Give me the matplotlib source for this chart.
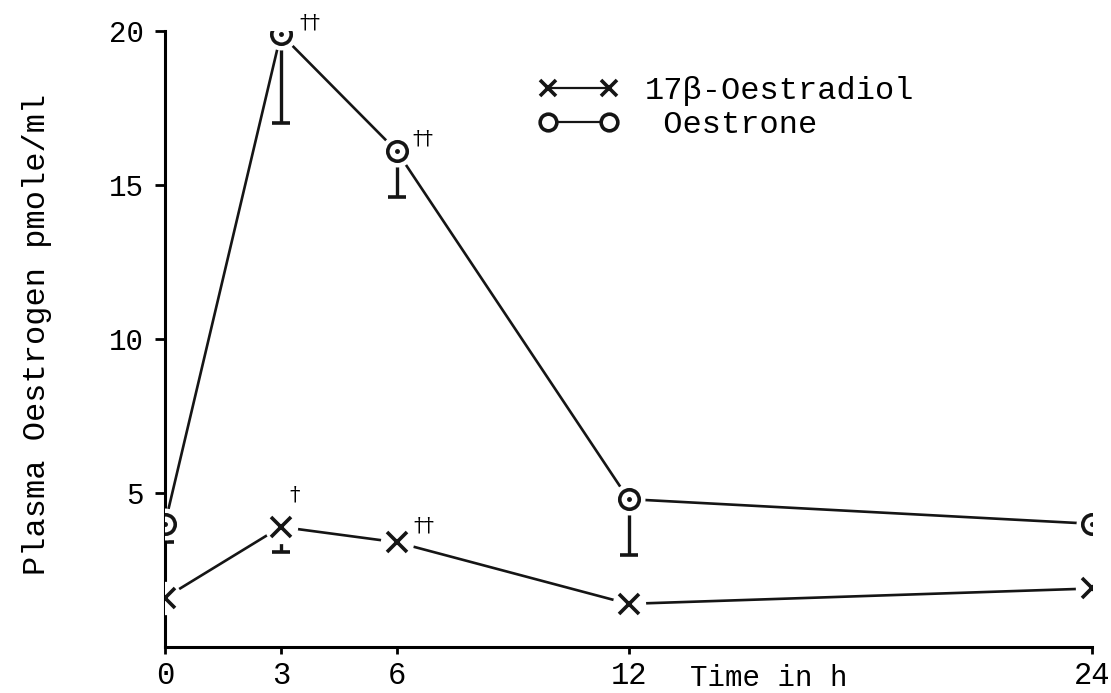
import numpy as np
import matplotlib.pyplot as plt
from matplotlib.lines import Line2D

# plasma oestrogen after dosing, mean with lower SEM bar
hours = [0, 3, 6, 12, 24]
hour_labels = ['0', '3', '6', '12', '24']
oestrone = [4.0, 19.9, 16.1, 4.8, 4.0]
oestrone_sem = [0.6, 2.9, 1.5, 1.8, 0.2]
oestradiol = [1.6, 3.9, 3.4, 1.4, 1.9]
oestradiol_sem = [0.2, 0.8, 0.3, 0.3, 0.2]
y_ticks = [5, 10, 15, 20]

# significance marks: (series, index, text, offset in points)
marks = [('E1', 1, '††', (13, 8)), ('E1', 2, '††', (11, 9)),
         ('E2', 1, '†', (6, 23)), ('E2', 2, '††', (12, 12))]

plt.rcParams['font.family'] = ['Liberation Mono', 'DejaVu Sans Mono']
plt.rcParams['font.size'] = 21

fig = plt.figure(figsize=(11.11, 6.93), dpi=100)
ax = fig.add_axes([0.1485, 0.0664, 0.8345, 0.8889])

ink = '#151515'


def draw_series(y, err, marker, ms):
    lower = [np.array(err), np.zeros(len(err))]
    ax.errorbar(hours, y, yerr=lower, fmt='none', ecolor=ink,
                elinewidth=2.4, capsize=6.5, capthick=2.6, zorder=2)
    ax.plot(hours, y, '-', color=ink, lw=1.9, zorder=1)
    # white halo so the line stops short of each symbol, like a pen drawing
    ax.plot(hours, y, 'o', ms=ms + 9, mfc='white', mec='none', zorder=3)
    if marker == 'o':
        ax.plot(hours, y, 'o', ms=ms, mfc='white', mec=ink, mew=2.6, zorder=4)
        ax.plot(hours, y, '.', ms=5, color=ink, zorder=5)
    else:
        ax.plot(hours, y, 'x', ms=ms, mec=ink, mew=2.6, zorder=4)


draw_series(oestrone, oestrone_sem, 'o', 14)
draw_series(oestradiol, oestradiol_sem, 'x', 15)

for series, i, txt, off in marks:
    yv = oestrone[i] if series == 'E1' else oestradiol[i]
    ax.annotate(txt, (hours[i], yv), xytext=off, textcoords='offset points',
                fontsize=15, ha='left', va='center', family='DejaVu Serif')

ax.set_xlim(0, 24)
ax.set_ylim(0, 20)
ax.set_xticks(hours)
ax.set_xticklabels(hour_labels, fontsize=22)
ax.set_yticks(y_ticks)
ax.set_yticklabels([str(v) for v in y_ticks], fontsize=21)
ax.spines['top'].set_visible(False)
ax.spines['right'].set_visible(False)
ax.spines['left'].set_linewidth(2.2)
ax.spines['bottom'].set_linewidth(2.2)
ax.tick_params(axis='y', direction='out', length=7, width=2, pad=8)
ax.tick_params(axis='x', direction='out', length=5, width=2, pad=5)

ax.text(13.6, -1.0, 'Time in h', ha='left', va='center', fontsize=21,
        clip_on=False)
fig.text(0.033, 0.518, 'Plasma Oestrogen pmole/ml', rotation=90,
         ha='center', va='center', fontsize=23)

handles = [
    Line2D([], [], color=ink, lw=1.6, marker='x', ms=12, mew=2.6),
    Line2D([], [], color=ink, lw=1.6, marker='o', ms=12, mfc='white', mew=2.6),
]
ax.legend(handles, ['17β-Oestradiol', ' Oestrone'], loc='upper left',
          bbox_to_anchor=(0.485, 0.89), bbox_transform=fig.transFigure,
          frameon=False, numpoints=2, handlelength=2.5, handletextpad=0.8,
          labelspacing=0.12, borderpad=0, borderaxespad=0, fontsize=23)

fig.savefig('out.png', dpi=100)
